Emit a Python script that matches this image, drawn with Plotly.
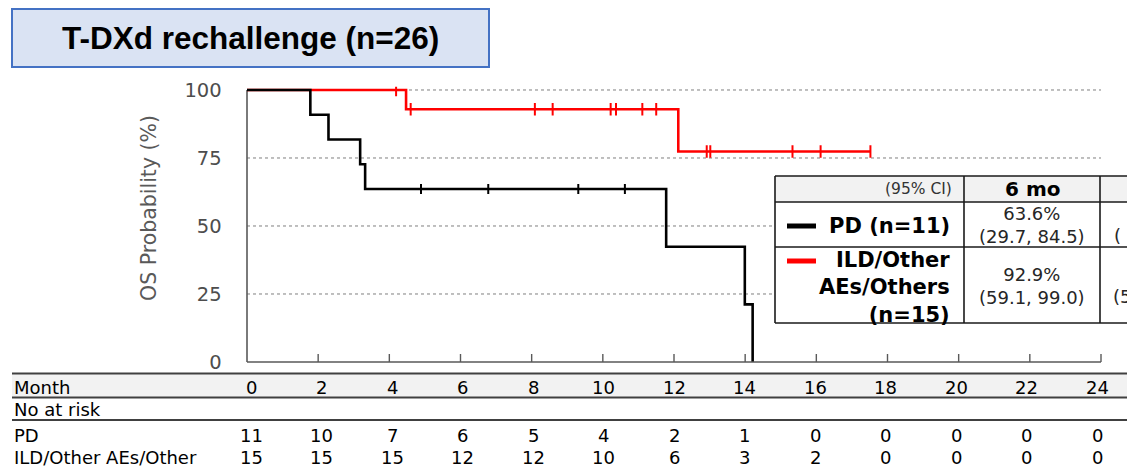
import plotly.graph_objects as go

# ---- data -------------------------------------------------------------
# Kaplan-Meier steps (months, OS %)
pd_times = [0, 1.78, 2.29, 3.18, 3.32, 11.78, 13.99, 14.21]
pd_surv = [100, 90.9, 81.8, 72.7, 63.6, 42.4, 21.2, 0]
pd_censor = [4.89, 6.78, 9.31, 10.62]

ild_times = [0, 4.47, 12.12, 17.52]
ild_surv = [100, 92.9, 77.4, 77.4]
ild_censor = [4.19, 4.60, 8.09, 8.59, 10.22, 10.37, 11.11, 11.50,
              12.92, 13.02, 15.33, 16.12, 17.52]

y_ticks = [0, 25, 50, 75, 100]
months = [0, 2, 4, 6, 8, 10, 12, 14, 16, 18, 20, 22, 24]
risk_pd = [11, 10, 7, 6, 5, 4, 2, 1, 0, 0, 0, 0, 0]
risk_ild = [15, 15, 15, 12, 12, 10, 6, 3, 2, 0, 0, 0, 0]

inset_header = ["(95% CI)", "6 mo"]
inset_pd = ["PD (n=11)", "63.6%", "(29.7, 84.5)"]
inset_ild = ["ILD/Other<br>AEs/Others<br>(n=15)", "92.9%", "(59.1, 99.0)"]

W, H = 1127, 467
_RED = "#FF0000"
_BLACK = "#000000"
_AXIS = "#595959"
_FONT = "DejaVu Sans, Verdana, sans-serif"


def px(x):
    return x / W


def py(y):
    return 1 - y / H


def step_at(times, surv, t):
    val = surv[0]
    for ti, si in zip(times, surv):
        if ti <= t:
            val = si
    return val


def label(text, x, y, size, color="#000000", xanchor="center", **kw):
    return dict(text=text, xref="paper", yref="paper", x=px(x), y=py(y), showarrow=False,
                xanchor=xanchor, yanchor="middle",
                font=dict(family=kw.pop("family", _FONT), size=size, color=color), **kw)


fig = go.Figure()

fig.add_trace(go.Scatter(
    x=ild_times, y=ild_surv, mode="lines", line=dict(color=_RED, width=2.6, shape="hv"),
    showlegend=False, hoverinfo="skip",
))
fig.add_trace(go.Scatter(
    x=ild_censor, y=[step_at(ild_times, ild_surv, t) for t in ild_censor], mode="markers",
    marker=dict(symbol="line-ns", size=9, line=dict(color=_RED, width=2)),
    showlegend=False, hoverinfo="skip",
))
fig.add_trace(go.Scatter(
    x=pd_times, y=pd_surv, mode="lines", line=dict(color=_BLACK, width=2.6, shape="hv"),
    showlegend=False, hoverinfo="skip",
))
fig.add_trace(go.Scatter(
    x=pd_censor, y=[step_at(pd_times, pd_surv, t) for t in pd_censor], mode="markers",
    marker=dict(symbol="line-ns", size=7, line=dict(color=_BLACK, width=2)),
    showlegend=False, hoverinfo="skip",
))

shapes = []
# dotted grid
for v in y_ticks[1:]:
    shapes.append(dict(type="line", xref="x", yref="y", x0=0, x1=24, y0=v, y1=v,
                       line=dict(color="#7F7F7F", width=1, dash="dot"), layer="below"))
# axis lines + inside ticks
shapes.append(dict(type="line", xref="x", yref="y", x0=0, x1=24, y0=0, y1=0,
                   line=dict(color=_AXIS, width=1.6)))
shapes.append(dict(type="line", xref="x", yref="y", x0=0, x1=0, y0=0, y1=100,
                   line=dict(color=_AXIS, width=1.6), layer="below"))
for m in months[1:]:
    shapes.append(dict(type="line", xref="x", yref="y", x0=m, x1=m, y0=0, y1=2.9,
                       line=dict(color=_AXIS, width=1.4)))

# title box
shapes.append(dict(type="rect", xref="paper", yref="paper", x0=px(12), x1=px(489),
                   y0=py(67), y1=py(9), fillcolor="#DAE3F3", line=dict(color="#4472C4", width=2)))

# inset table
tx = [775, 964, 1100, 1160]
ty = [176, 202, 247, 323]
shapes.append(dict(type="rect", xref="paper", yref="paper", x0=px(tx[0]), x1=px(tx[3]),
                   y0=py(ty[3]), y1=py(ty[0]), fillcolor="white", line=dict(width=0)))
shapes.append(dict(type="rect", xref="paper", yref="paper", x0=px(tx[0]), x1=px(tx[3]),
                   y0=py(ty[1]), y1=py(ty[0]), fillcolor="#F2F2F2", line=dict(width=0)))
for yy in ty:
    shapes.append(dict(type="line", xref="paper", yref="paper", x0=px(tx[0]), x1=px(tx[3]),
                       y0=py(yy), y1=py(yy), line=dict(color="#1A1A1A", width=1.6)))
for xx in tx[:3]:
    shapes.append(dict(type="line", xref="paper", yref="paper", x0=px(xx), x1=px(xx),
                       y0=py(ty[3]), y1=py(ty[0]), line=dict(color="#1A1A1A", width=1.6)))
# legend swatches
shapes.append(dict(type="line", xref="paper", yref="paper", x0=px(787), x1=px(816),
                   y0=py(226), y1=py(226), line=dict(color=_BLACK, width=5)))
shapes.append(dict(type="line", xref="paper", yref="paper", x0=px(787), x1=px(816),
                   y0=py(261), y1=py(261), line=dict(color=_RED, width=5)))

# risk table rules
shapes.append(dict(type="rect", xref="paper", yref="paper", x0=px(12), x1=px(1130),
                   y0=py(397.5), y1=py(373.5), fillcolor="#F2F2F2", line=dict(width=0),
                   layer="below"))
for yy in [373.5, 397.5, 420]:
    shapes.append(dict(type="line", xref="paper", yref="paper", x0=px(12), x1=px(1130),
                       y0=py(yy), y1=py(yy), line=dict(color="#404040", width=1.8)))

ann = []
ann.append(label("<b>T-DXd rechallenge (n=26)</b>", 250.5, 38, 31.5,
                 family="Liberation Sans, Arial"))
ann.append(label("OS Probability (%)", 149, 208, 20.5, color=_AXIS, textangle=-90))

# inset text
ann.append(label(inset_header[0], 954, 189.5, 15.5, color="#333333", xanchor="right"))
ann.append(label("<b>" + inset_header[1] + "</b>", 1032, 189.5, 20))
ann.append(label("<b>" + inset_pd[0] + "</b>", 952, 226, 21, xanchor="right"))
ann.append(label("<b>" + inset_ild[0] + "</b>", 952, 287, 21, xanchor="right", align="right"))
ann.append(label(inset_pd[1] + "<br>" + inset_pd[2], 1032, 225, 18, color="#262626"))
ann.append(label(inset_ild[1] + "<br>" + inset_ild[2], 1032, 286, 18, color="#262626"))
# third column, cut off by the right edge as in the source slide
ann.append(label("(", 1112, 235, 18, color="#262626", xanchor="left"))
ann.append(label("(5", 1111, 296, 18, color="#262626", xanchor="left"))

# risk table
row_labels = ["Month", "No at risk", "PD", "ILD/Other AEs/Other"]
row_y = [387, 409.5, 435, 457.5]
for lab, yy in zip(row_labels, row_y):
    ann.append(label(lab, 12, yy, 18, xanchor="left"))
for row, yy in [(months, row_y[0]), (risk_pd, row_y[2]), (risk_ild, row_y[3])]:
    for m, v in zip(months, row):
        ann.append(dict(text=str(v), xref="x2", yref="paper", x=m, y=py(yy), showarrow=False,
                        xanchor="center", yanchor="middle",
                        font=dict(family=_FONT, size=18, color="#000000")))

# plot area: x 0 -> 247px, 24 -> 1101px ; y 0 -> 362px, 100 -> 90px
ux = (1101 - 247) / 24
uy = (362 - 90) / 100
x_lo, x_hi = -0.15, 24.15
y_lo, y_hi = -1.6, 101.2
dom_x = [px(247 + x_lo * ux), px(247 + x_hi * ux)]
dom_y = [py(362 - y_lo * uy), py(362 - y_hi * uy)]
# risk-table columns: 0 -> 251px, 24 -> 1097px
rx = (1097 - 251) / 24
x2_range = [(247 + x_lo * ux - 251) / rx, (247 + x_hi * ux - 251) / rx]

fig.update_layout(
    width=W, height=H, autosize=False,
    margin=dict(l=0, r=0, t=0, b=0, pad=0, autoexpand=False),
    paper_bgcolor="white", plot_bgcolor="rgba(0,0,0,0)",
    font=dict(family=_FONT, color=_AXIS),
    xaxis=dict(domain=dom_x, range=[x_lo, x_hi], showgrid=False, zeroline=False,
               showticklabels=False, showline=False, ticks="", automargin=False),
    xaxis2=dict(domain=dom_x, range=x2_range, overlaying="x", anchor="y", visible=False),
    yaxis=dict(domain=dom_y, range=[y_lo, y_hi], tickvals=y_ticks, showgrid=False,
               zeroline=False, showline=False, ticks="", ticklabelstandoff=19,
               automargin=False, tickfont=dict(family=_FONT, size=19.5, color="#4D4D4D")),
    shapes=shapes,
    annotations=ann,
)

fig.write_html("out.html", post_script="document.body.style.margin='0';",
               config={"displayModeBar": False})
